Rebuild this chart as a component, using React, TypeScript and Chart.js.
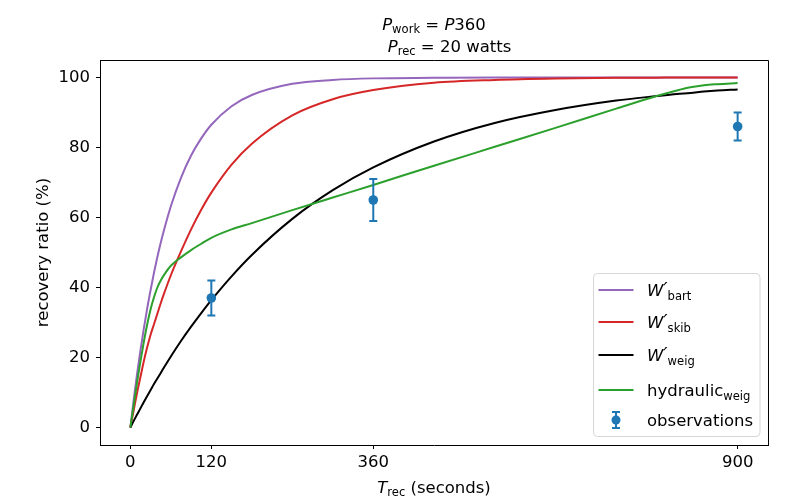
import { useEffect, useRef } from "react";
import { Chart, registerables } from "chart.js";

Chart.register(...registerables);

// recovery time grid (seconds) shared by the model curves
const T = [0, 5, 10, 15, 20, 25, 30, 35, 40, 45, 50, 60, 75, 90, 105, 120, 150, 180, 240, 300, 360, 450, 540, 630, 720, 780, 810, 830, 850, 870, 900];
const bart = [0, 8.0, 15.4, 22.1, 28.3, 34.1, 39.3, 44.2, 48.7, 52.8, 56.5, 63.2, 71.3, 77.7, 82.6, 86.5, 91.8, 95.0, 98.2, 99.3, 99.75, 99.9, 100, 100, 100, 100, 100, 100, 100, 100, 100];
const skib = [0, 5.0, 10.0, 14.5, 19.0, 23.0, 26.5, 29.5, 32.5, 35.5, 38.3, 43.5, 50.3, 56.6, 62.2, 67.1, 75.1, 81.1, 89.2, 93.8, 96.4, 98.5, 99.3, 99.7, 99.9, 99.95, 100, 100, 100, 100, 100];
const weig = [0, 1.9, 3.7, 5.5, 7.3, 9.0, 10.7, 12.4, 14.0, 15.6, 17.2, 20.3, 24.7, 28.8, 32.7, 36.4, 43.2, 49.3, 59.6, 67.8, 74.3, 81.7, 87.0, 90.7, 93.4, 94.7, 95.3, 95.6, 96.0, 96.3, 96.6];
const hydraulic = [0, 6.5, 13.0, 19.0, 24.5, 29.5, 33.8, 37.2, 40.0, 42.0, 43.6, 46.2, 48.6, 50.7, 52.5, 54.2, 56.6, 58.4, 62.1, 65.7, 69.3, 74.8, 80.2, 85.6, 91.1, 94.7, 96.3, 97.2, 97.8, 98.1, 98.4];

// observations with symmetric error
const obsT = [120, 360, 900];
const obsMean = [37, 65, 86];
const obsErr = [5, 6, 4];

const xTicks = [0, 120, 360, 900];
const yTicks = [0, 20, 40, 60, 80, 100];

const FONT = "'DejaVu Sans'";
const BLUE = "#1f77b4";

type Seg = { t: string; it?: boolean; scale?: number; dy?: number };

const segFont = (s: Seg, size: number) =>
  `${s.it ? "italic " : ""}${(s.scale ?? 1) * size}px ${FONT}`;

function mathWidth(ctx: CanvasRenderingContext2D, segs: Seg[], size: number) {
  let w = 0;
  segs.forEach((s) => {
    ctx.font = segFont(s, size);
    w += ctx.measureText(s.t).width;
  });
  return w;
}

function drawMath(ctx: CanvasRenderingContext2D, segs: Seg[], x: number, y: number, size: number, center = false) {
  let cx = center ? x - mathWidth(ctx, segs, size) / 2 : x;
  ctx.textAlign = "left";
  ctx.textBaseline = "alphabetic";
  ctx.fillStyle = "#000";
  segs.forEach((s) => {
    ctx.font = segFont(s, size);
    ctx.fillText(s.t, cx, y + (s.dy ?? 0));
    cx += ctx.measureText(s.t).width;
  });
}

const prime: Seg = { t: "′", it: true, scale: 1.15, dy: 0 };

const legendItems: { color: string; segs: Seg[] }[] = [
  { color: "#9467bd", segs: [{ t: "W", it: true }, prime, { t: "bart", scale: 0.7, dy: 4.5 }] },
  { color: "#d62728", segs: [{ t: "W", it: true }, prime, { t: "skib", scale: 0.7, dy: 4.5 }] },
  { color: "#000000", segs: [{ t: "W", it: true }, prime, { t: "weig", scale: 0.7, dy: 4.5 }] },
  { color: "#2ca02c", segs: [{ t: "hydraulic" }, { t: "weig", scale: 0.7, dy: 4 }] },
];

const overlay = {
  id: "overlay",
  beforeDatasetDraw(chart: Chart, args: { index: number }) {
    if (args.index !== 4) return;
    const { ctx } = chart;
    const xs = chart.scales.x;
    const ys = chart.scales.y;
    ctx.save();
    ctx.strokeStyle = BLUE;
    ctx.lineWidth = 2;
    obsT.forEach((t, i) => {
      const px = xs.getPixelForValue(t);
      const top = ys.getPixelForValue(obsMean[i] + obsErr[i]);
      const bot = ys.getPixelForValue(obsMean[i] - obsErr[i]);
      ctx.beginPath();
      ctx.moveTo(px, top);
      ctx.lineTo(px, bot);
      ctx.moveTo(px - 4, top);
      ctx.lineTo(px + 4, top);
      ctx.moveTo(px - 4, bot);
      ctx.lineTo(px + 4, bot);
      ctx.stroke();
    });
    ctx.restore();
  },
  afterDraw(chart: Chart) {
    const { ctx, chartArea: a } = chart;
    ctx.save();
    // top and right spines
    ctx.strokeStyle = "#000";
    ctx.lineWidth = 1;
    ctx.beginPath();
    ctx.moveTo(a.left, a.top + 0.5);
    ctx.lineTo(a.right + 0.5, a.top + 0.5);
    ctx.lineTo(a.right + 0.5, a.bottom);
    ctx.stroke();

    // title
    const fs = 16.5;
    drawMath(ctx, [{ t: "P", it: true }, { t: "work", scale: 0.7, dy: 2.5 }, { t: " = " }, { t: "P", it: true }, { t: "360" }], 434, 30, fs, true);
    drawMath(ctx, [{ t: "P", it: true }, { t: "rec", scale: 0.7, dy: 2.5 }, { t: " = 20 watts" }], 449.5, 52, fs, true);

    // x label
    drawMath(ctx, [{ t: "T", it: true }, { t: "rec", scale: 0.7, dy: 2.7 }, { t: " (seconds)" }], (a.left + a.right) / 2, 493, fs, true);

    // y label
    ctx.save();
    ctx.translate(44, (a.top + a.bottom) / 2);
    ctx.rotate(-Math.PI / 2);
    ctx.font = `${fs}px ${FONT}`;
    ctx.textAlign = "center";
    ctx.textBaseline = "middle";
    ctx.fillStyle = "#000";
    ctx.fillText("recovery ratio (%)", 0, 0);
    ctx.restore();

    // legend
    const lx = 593.5, ly = 273.5, lw = 166.5, lh = 163;
    ctx.beginPath();
    ctx.roundRect(lx, ly, lw, lh, 4);
    ctx.fillStyle = "rgba(255,255,255,0.8)";
    ctx.fill();
    ctx.strokeStyle = "rgba(204,204,204,0.8)";
    ctx.lineWidth = 1;
    ctx.stroke();
    const rows = [290, 322, 355, 390];
    legendItems.forEach((it, i) => {
      ctx.strokeStyle = it.color;
      ctx.lineWidth = 2;
      ctx.beginPath();
      ctx.moveTo(598.5, rows[i]);
      ctx.lineTo(633.5, rows[i]);
      ctx.stroke();
      drawMath(ctx, it.segs, 647, rows[i] + 5.5, fs);
    });
    // observations handle
    const oy = 420;
    ctx.strokeStyle = BLUE;
    ctx.lineWidth = 2;
    ctx.beginPath();
    ctx.moveTo(616, oy - 8);
    ctx.lineTo(616, oy + 8);
    ctx.moveTo(612, oy - 8);
    ctx.lineTo(620, oy - 8);
    ctx.moveTo(612, oy + 8);
    ctx.lineTo(620, oy + 8);
    ctx.stroke();
    ctx.beginPath();
    ctx.arc(616, oy, 4.5, 0, Math.PI * 2);
    ctx.fillStyle = BLUE;
    ctx.fill();
    drawMath(ctx, [{ t: "observations" }], 647, oy + 5.5, fs);
    ctx.restore();
  },
};

const line = (label: string, ys: number[], color: string, order: number) => ({
  label,
  data: T.map((t, i) => ({ x: t, y: ys[i] })),
  borderColor: color,
  backgroundColor: color,
  borderWidth: 2,
  pointRadius: 0,
  cubicInterpolationMode: "monotone" as const,
  order,
});

const App = () => {
  const canvasRef = useRef<HTMLCanvasElement | null>(null);

  useEffect(() => {
    if (!canvasRef.current) return;
    Chart.defaults.font.family = FONT;
    Chart.defaults.color = "#000";
    const chart = new Chart(canvasRef.current, {
      type: "line",
      data: {
        datasets: [
          line("bart", bart, "#9467bd", 4),
          line("skib", skib, "#d62728", 3),
          line("weig", weig, "#000000", 2),
          line("hydraulic", hydraulic, "#2ca02c", 1),
          {
            label: "observations",
            data: obsT.map((t, i) => ({ x: t, y: obsMean[i] })),
            showLine: false,
            pointRadius: 4.8,
            pointBorderWidth: 0,
            pointBackgroundColor: BLUE,
            borderColor: BLUE,
            order: 0,
          },
        ],
      },
      options: {
        animation: false,
        responsive: true,
        maintainAspectRatio: false,
        layout: { padding: { top: 60, right: 32, left: 0, bottom: 0 } },
        plugins: { legend: { display: false }, tooltip: { enabled: false } },
        scales: {
          x: {
            type: "linear",
            min: -45,
            max: 945,
            afterBuildTicks: (s: any) => {
              s.ticks = xTicks.map((v) => ({ value: v }));
            },
            afterFit: (s: any) => {
              s.height = 55;
            },
            ticks: { font: { size: 16.5 }, color: "#000", padding: 4, maxRotation: 0, autoSkip: false },
            grid: { drawOnChartArea: false, tickLength: 4, color: "#000" },
            border: { color: "#000", width: 1 },
          },
          y: {
            type: "linear",
            min: -5,
            max: 105,
            afterBuildTicks: (s: any) => {
              s.ticks = yTicks.map((v) => ({ value: v }));
            },
            afterFit: (s: any) => {
              s.width = 100;
            },
            ticks: { font: { size: 16.5 }, color: "#000", padding: 6 },
            grid: { drawOnChartArea: false, tickLength: 4, color: "#000" },
            border: { color: "#000", width: 1 },
          },
        },
      },
      plugins: [overlay],
    });
    return () => chart.destroy();
  }, []);

  return (
    <div style={{ position: "absolute", left: 0, top: 0, width: 800, height: 500, background: "#fff" }}>
      <canvas ref={canvasRef} />
    </div>
  );
};

export default App;
